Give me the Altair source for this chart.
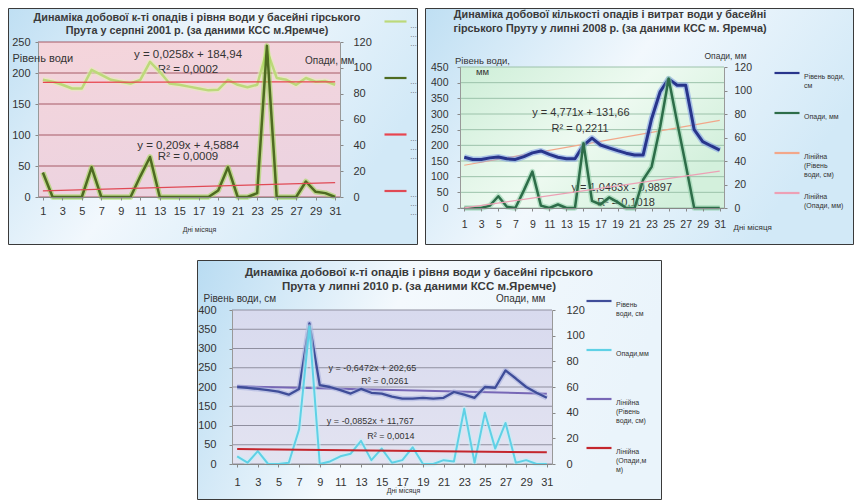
import altair as alt
import pandas as pd

FONT = "Liberation Sans"
days = list(range(1, 32))
odd_days = list(range(1, 32, 2))

# ---------------- Panel A: серпень 2001 ----------------
a_title = ["Динаміка добової к-ті опадів і рівня води у басейні гірського",
           "Прута у серпні 2001 р. (за даними КСС м.Яремче)"]
a_level = [189, 186, 181, 175, 175, 205, 197, 189, 186, 183, 189, 218, 202, 183, 181, 178,
           175, 172, 173, 189, 181, 177, 181, 237, 192, 189, 181, 192, 186, 187, 181]
a_rain = [19, 0, 0, 0, 0, 23, 0, 0, 0, 0, 16, 31, 0, 0, 0, 0, 0, 0, 5, 23, 0, 0, 3, 117,
          0, 0, 0, 12, 4, 3, 0]
a_fit_level = (0.0258, 184.94)
a_fit_rain = (0.209, 4.5884)
a_eq_text = ["y = 0,0258x + 184,94", "R² = 0,0002", "y = 0,209x + 4,5884", "R² = 0,0009"]
a_eq_day = [15.9, 15.9, 15.9, 15.9]
a_eq_val = [229, 205, 82, 64]
a_left_ticks = [0, 50, 100, 150, 200, 250]
a_right_ticks = [0, 20, 40, 60, 80, 100, 120]
a_series = ["Рівень|води,|см", "Опади,|мм| ", "Лінійна|(Рівень|води, см)", "Лінійна|(Опади,|мм)"]

# ---------------- Panel B: липень 2008 ----------------
b_title = ["Динаміка добової кількості опадів і витрат води у басейні",
           "гірського Пруту у липні 2008 р. (за даними КСС м. Яремча)"]
b_level = [162, 155, 155, 160, 163, 157, 155, 164, 176, 182, 171, 162, 157, 157, 200, 223,
           201, 192, 183, 175, 169, 169, 285, 371, 412, 392, 392, 250, 212, 198, 185]
b_rain = [0, 0, 0, 2, 10, 1, 0, 15, 31, 2, 0, 3, 0, 0, 55, 6, 3, 9, 5, 0, 0, 24, 35, 69,
          110, 73, 37, 0, 0, 0, 0]
b_fit_level = (4.771, 131.66)
b_fit_rain = (1.0463, -0.9897)
b_eq_text = ["y = 4,771x + 131,66", "R² = 0,2211", "y = 1,0463x - 0,9897", "R² = 0,1018"]
b_eq_day = [14.7, 14.6, 19.5, 20.0]
b_eq_val = [303, 252, 64, 16]
b_left_ticks = [0, 50, 100, 150, 200, 250, 300, 350, 400, 450]
b_right_ticks = [0, 20, 40, 60, 80, 100, 120]
b_series = ["Рівень води,|см| ", "Опади, мм| | ", "Лінійна|(Рівень|води, см)", "Лінійна|(Опади, мм)| "]

# ---------------- Panel C: липень 2010 ----------------
c_title = ["Динаміка добової к-ті опадів і рівня води у басейні гірського",
           "Прута у липні 2010 р. (за даними КСС м.Яремче)"]
c_level = [200, 198, 195, 192, 188, 180, 195, 365, 205, 200, 192, 183, 195, 185, 183, 175,
           170, 170, 172, 170, 172, 187, 180, 172, 200, 198, 243, 222, 200, 185, 172]
c_rain = [6, 1, 10, 0, 0, 1, 27, 107, 0, 2, 6, 8, 18, 3, 12, 1, 3, 13, 0, 0, 3, 2, 43, 1,
          40, 12, 32, 1, 3, 0, 0]
c_fit_level = (-0.6472, 202.65)
c_fit_rain = (-0.0852, 11.767)
c_eq_text = ["y = -0,6472x + 202,65", "R² = 0,0261", "y = -0,0852x + 11,767", "R² = 0,0014"]
c_eq_day = [14.1, 15.3, 13.9, 15.9]
c_eq_val = [249, 215, 112, 73]
c_left_ticks = [0, 50, 100, 150, 200, 250, 300, 350, 400]
c_right_ticks = [0, 20, 40, 60, 80, 100, 120]
c_series = ["Рівень|води, см| ", "Опади,мм| | ", "Лінійна|(Рівень|води, см)", "Лінійна|(Опади,м|м)"]


def grad(stops, x2=1, y2=0):
    return alt.Gradient(gradient="linear", x1=0, y1=0, x2=x2, y2=y2,
                        stops=[alt.GradientStop(color=c, offset=o) for o, c in stops])


def panel(cfg):
    ox, oy, w, h = cfg["plot"]             # plot area (page px)
    fx0, fy0, fx1, fy1 = cfg["frame"]      # view cell (page px)
    bx0, by0, bx1, by1 = cfg["box"]        # visible panel box (page px)
    W, H = fx1 - fx0, fy1 - fy0
    px0, px1 = ox - fx0, ox + w - fx0
    py0, py1 = oy - fy0, oy + h - fy0
    one = pd.DataFrame({"k": [0]})
    fs = cfg["fonts"]

    frame = alt.Chart(one).mark_rect(fill="white").encode(
        x=alt.value(0), x2=alt.value(W), y=alt.value(0), y2=alt.value(H))
    box = alt.Chart(one).mark_rect(fill=cfg["box_fill"], stroke="#3a3a3a", strokeWidth=1).encode(
        x=alt.value(bx0 - fx0 + 0.5), x2=alt.value(bx1 - fx0 - 0.5),
        y=alt.value(by0 - fy0 + 0.5), y2=alt.value(by1 - fy0 - 0.5))

    names = cfg["series"]
    m1, b1 = cfg["fit_level"]
    m2, b2 = cfg["fit_rain"]
    ymax = cfg["left_ticks"][-1]
    df_level = pd.DataFrame({"d": days, "v": cfg["level"], "s": names[0]})
    df_rain = pd.DataFrame({"d": days, "v": cfg["rain"], "s": names[1]})
    df_tl = pd.DataFrame({"d": [1, 31], "v": [m1 + b1, m1 * 31 + b1], "s": names[2]})
    df_tr = pd.DataFrame({"d": [1, 31], "v": [m2 + b2, m2 * 31 + b2], "s": names[3]})
    df_grid = pd.DataFrame({"g": cfg["left_ticks"], "d": 0.5, "d2": 31.5})
    df_area = pd.DataFrame({"d": [0.5], "d2": [31.5], "v": [0], "v2": [ymax]})
    df_eq = pd.DataFrame({"d": cfg["eq_day"], "v": cfg["eq_val"], "t": cfg["eq_text"]})

    xs = alt.Scale(domain=[0.5, 31.5], range=[px0, px1], nice=False, zero=False)
    xa = alt.Axis(values=odd_days, labelFont=FONT, labelFontSize=fs, labelColor="#333",
                  tickSize=3, tickColor="#888", domainColor="#888", labelPadding=cfg["xlabpad"],
                  labelFlush=False, labelOverlap=False, grid=False, zindex=1, labelAngle=0,
                  offset=py1 - H,
                  title=cfg["xtitle"][0], titleX=cfg["xtitle"][1] - fx0, titleY=cfg["xtitle"][2] - (oy + h),
                  titleFont=FONT, titleFontSize=cfg["xtitle"][3], titleFontWeight="normal",
                  titleColor="#333", titleBaseline="middle", titleAlign=cfg["xtitle"][4])
    X = alt.X("d:Q", scale=xs, axis=xa)

    ls = alt.Scale(domain=[0, ymax], range=[py1, py0], nice=False, zero=True)
    rs = alt.Scale(domain=[0, 120], range=[py1, py0], nice=False, zero=True)
    la = alt.Axis(orient="left", values=cfg["left_ticks"], labelFont=FONT, labelFontSize=fs,
                  labelColor="#333", tickSize=3, tickColor="#888", domainColor="#999",
                  labelPadding=cfg["llabpad"], grid=False, zindex=1, labelFlush=False,
                  offset=-px0,
                  title=cfg["ltitle"][0], titleX=cfg["ltitle"][1] - ox, titleY=cfg["ltitle"][2] - fy0,
                  titleAngle=0, titleAlign=cfg["ltitle"][4], titleBaseline="middle",
                  titleFont=FONT, titleFontSize=cfg["ltitle"][3], titleFontWeight="normal",
                  titleColor="#333")
    ra = alt.Axis(orient="right", values=cfg["right_ticks"], labelFont=FONT, labelFontSize=fs,
                  labelColor="#333", tickSize=3, tickColor="#888", domainColor="#999",
                  labelPadding=cfg["rlabpad"], grid=False, zindex=1, labelFlush=False,
                  offset=px1 - W,
                  title=cfg["rtitle"][0], titleX=cfg["rtitle"][1] - (ox + w), titleY=cfg["rtitle"][2] - fy0,
                  titleAngle=0, titleAlign=cfg["rtitle"][4], titleBaseline="middle",
                  titleFont=FONT, titleFontSize=cfg["rtitle"][3], titleFontWeight="normal",
                  titleColor="#333")
    YL = alt.Y("v:Q", scale=ls, axis=la)
    YR = alt.Y("v:Q", scale=rs, axis=ra)

    lg = cfg["legend"]
    legend = alt.Legend(orient="none", legendX=lg["x"] - fx0, legendY=lg["y"] - fy0, title=None,
                        symbolType="stroke", symbolSize=lg["len"] ** 2, symbolStrokeWidth=2.2,
                        labelFont=FONT, labelFontSize=7, labelColor="#333",
                        labelExpr="split(datum.label, '|')", labelBaseline="top",
                        labelOffset=lg["off"], rowPadding=lg["rowpad"], padding=0,
                        labelLimit=lg["limit"], zindex=1, direction="vertical")
    C = alt.Color("s:N", scale=alt.Scale(domain=names, range=cfg["colors"]), legend=legend)

    plotbg = alt.Chart(df_area).mark_rect(fill=cfg["plot_fill"]).encode(
        x=X, x2="d2", y=YL, y2="v2")
    grid = alt.Chart(df_grid).mark_rule(color=cfg["grid_color"], strokeWidth=1).encode(
        x=X, x2="d2", y=alt.Y("g:Q", scale=ls, axis=la))
    eq = alt.Chart(df_eq).mark_text(font=FONT, fontSize=cfg["eq_size"], color="#333").encode(
        x=X, y=YL, text="t:N")
    wd = cfg["widths"]
    lvl_glow = alt.Chart(df_level).mark_line(color=cfg["glow"][0], strokeWidth=wd[0] + 3,
                                             opacity=0.55, strokeJoin="round").encode(x=X, y=YL)
    lvl = alt.Chart(df_level).mark_line(strokeWidth=wd[0], strokeJoin="round").encode(
        x=X, y=YL, color=C)
    tl = alt.Chart(df_tl).mark_line(strokeWidth=wd[2]).encode(x=X, y=YL, color=C)

    rain_glow = alt.Chart(df_rain).mark_line(color=cfg["glow"][1], strokeWidth=wd[1] + 3,
                                             opacity=0.55, strokeJoin="round").encode(x=X, y=YR)
    rain = alt.Chart(df_rain).mark_line(strokeWidth=wd[1], strokeJoin="round").encode(
        x=X, y=YR, color=C)
    tr = alt.Chart(df_tr).mark_line(strokeWidth=wd[3]).encode(x=X, y=YR, color=C)

    if cfg["level_on_top"]:
        left = alt.layer(plotbg, grid, eq, tl, lvl_glow, lvl)
    else:
        left = alt.layer(plotbg, grid, eq, lvl_glow, lvl, tl)
    right = alt.layer(rain_glow, rain, tr)

    t = cfg["title_pos"]
    return alt.layer(frame, box, left, right).resolve_scale(y="independent").properties(
        width=W, height=H,
        title=alt.TitleParams(text=cfg["title"], font=FONT, fontSize=t[2], fontWeight="bold",
                              color="#3a3a3a", anchor="middle", frame="group",
                              dx=t[0] - (fx0 + W / 2), offset=t[1], lineHeight=t[3]))


blue_bg = grad([(0, "#bfdff3"), (0.5, "#f2f8fd"), (1, "#d2e9f7")], x2=1, y2=0.4)

A = panel(dict(
    title=a_title,
    plot=(38, 42, 302, 155), frame=(8, 8, 418, 245), box=(8, 8, 418, 245),
    box_fill=blue_bg,
    plot_fill=grad([(0, "#f5d5db"), (1, "#ecd3e0")], x2=0.3, y2=1),
    series=a_series, level=a_level, rain=a_rain, fit_level=a_fit_level, fit_rain=a_fit_rain,
    eq_text=a_eq_text, eq_day=a_eq_day, eq_val=a_eq_val, eq_size=11.5, fonts=11,
    left_ticks=a_left_ticks, right_ticks=a_right_ticks,
    xtitle=("Дні місяця", 199, 229, 7, "center"),
    ltitle=("Рівень води", 12, 58, 11, "left"),
    rtitle=("Опади, мм", 354, 60, 10, "right"),
    xlabpad=5, llabpad=5, rlabpad=10,
    legend=dict(x=383, y=9, len=22, off=2, rowpad=18.5, limit=7),
    colors=["#bcd97a", "#4e6b21", "#e8454f", "#e04a55"],
    glow=["#e3efb5", "#9ad84a"], widths=[2.5, 2.5, 1.2, 1.2],
    grid_color="#a65a66", level_on_top=False, title_pos=(197, -28, 10.8, 13),
))

B = panel(dict(
    title=b_title,
    plot=(460, 67, 264, 141), frame=(425, 8, 854, 245), box=(425, 8, 854, 245),
    box_fill=blue_bg,
    plot_fill=grad([(0, "#cdeed7"), (0.55, "#eefaf1"), (1, "#d3f0dc")], x2=1, y2=0.6),
    series=b_series, level=b_level, rain=b_rain, fit_level=b_fit_level, fit_rain=b_fit_rain,
    eq_text=b_eq_text, eq_day=b_eq_day, eq_val=b_eq_val, eq_size=11, fonts=10.5,
    left_ticks=b_left_ticks, right_ticks=b_right_ticks,
    xtitle=("Дні місяця", 733, 227, 8, "left"),
    ltitle=(["Рівень води,", "мм"], 482, 60, 9.5, "center"),
    rtitle=("Опади, мм", 746, 55, 8.5, "right"),
    xlabpad=8, llabpad=9, rlabpad=7,
    legend=dict(x=773, y=59, len=25, off=3, rowpad=1, limit=48),
    colors=["#28358c", "#2d6d49", "#f2a78a", "#eda0b5"],
    glow=["#7b9be6", "#8fd0a8"], widths=[3, 2.5, 1.2, 1.2],
    grid_color="#9cc2aa", level_on_top=True, title_pos=(610, -26, 10.8, 14),
))

C = panel(dict(
    title=c_title,
    plot=(232, 310, 320, 154), frame=(8, 260, 854, 500), box=(197, 260, 662, 500),
    box_fill=grad([(0, "#b9dcf2"), (0.45, "#f4f9fd"), (1, "#eaf4fb")], x2=1, y2=0.2),
    plot_fill=grad([(0, "#d8daee"), (1, "#e3e3f1")], x2=0, y2=1),
    series=c_series, level=c_level, rain=c_rain, fit_level=c_fit_level, fit_rain=c_fit_rain,
    eq_text=c_eq_text, eq_day=c_eq_day, eq_val=c_eq_val, eq_size=9, fonts=11,
    left_ticks=c_left_ticks, right_ticks=c_right_ticks,
    xtitle=("Дні місяця", 403, 490, 7, "center"),
    ltitle=("Рівень води, см", 203, 298, 10, "left"),
    rtitle=("Опади, мм", 545, 298, 10, "right"),
    xlabpad=9, llabpad=13, rlabpad=11,
    legend=dict(x=585, y=287, len=25, off=3, rowpad=10, limit=48),
    colors=["#3f4d99", "#5fd1e6", "#7767b6", "#c4262d"],
    glow=["#a3abdc", "#c2f1f8"], widths=[2.3, 2, 2, 2],
    grid_color="#8f8f9f", level_on_top=True, title_pos=(419, -32, 11.5, 14),
))

top = alt.concat(A, B, columns=2, spacing=7).resolve_scale(
    color="independent", x="independent", y="independent")
chart = alt.concat(top, C, columns=1, spacing=15).resolve_scale(
    color="independent", x="independent", y="independent"
).properties(padding=0, background="white").configure_view(stroke=None)

chart.save("out.html", embed_options={"renderer": "svg", "actions": False})
